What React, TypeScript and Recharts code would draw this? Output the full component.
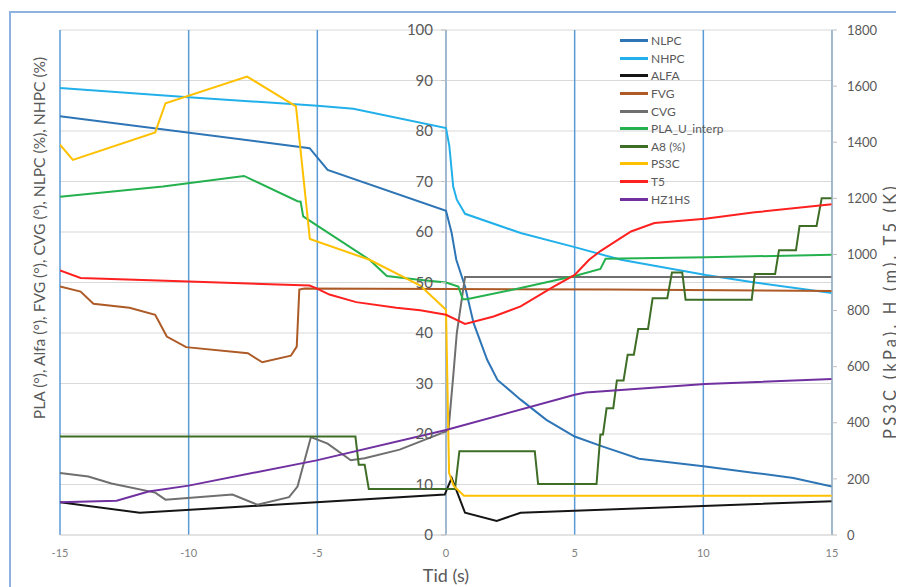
import { LineChart, Line, XAxis, YAxis, CartesianGrid, ReferenceLine, Legend } from "recharts";

// time (s) / value pairs
// left axis: PLA, Alfa, FVG, CVG, NLPC, NHPC, A8 (all % or °)
const NLPC: [number, number][] = [
  [-15, 82.9], [-5.3, 76.6], [-4.6, 72.3], [0, 64.2], [0.22, 59.8], [0.4, 54.5], [0.74, 49.2],
  [1.07, 42.0], [1.6, 34.7], [2.0, 30.7], [2.9, 26.8], [3.9, 22.8], [5.0, 19.5], [6.1, 17.5],
  [7.5, 15.1], [10, 13.6], [12, 12.3], [13.5, 11.3], [15, 9.6],
];
const NHPC: [number, number][] = [
  [-15, 88.5], [-10, 86.7], [-5, 85.0], [-3.6, 84.4], [0, 80.6], [0.13, 77.0], [0.28, 69.0],
  [0.42, 66.4], [0.74, 63.6], [2.9, 59.8], [5.0, 57.0], [6.8, 54.5], [10.1, 51.5], [12, 50.0], [15, 47.9],
];
const ALFA: [number, number][] = [
  [-15, 6.5], [-11.9, 4.4], [-0.05, 8.0], [0.22, 11.3], [0.74, 4.4], [1.97, 2.8], [2.9, 4.4], [15, 6.7],
];
const FVG: [number, number][] = [
  [-15, 49.2], [-14.2, 48.2], [-13.7, 45.8], [-12.3, 45.0], [-11.3, 43.6], [-10.85, 39.3],
  [-10.1, 37.2], [-7.7, 36.0], [-7.14, 34.2], [-6.03, 35.5], [-5.8, 37.3], [-5.7, 48.6],
  [-5.5, 48.8], [0, 48.7], [6.3, 48.6], [15, 48.3],
];
const CVG: [number, number][] = [
  [-15, 12.3], [-13.9, 11.6], [-13.0, 10.2], [-11.3, 8.4], [-10.9, 7.0], [-8.3, 8.0], [-7.33, 6.0],
  [-6.1, 7.5], [-5.77, 9.6], [-5.25, 19.4], [-4.6, 18.1], [-3.7, 14.8], [-3.16, 15.2], [-1.8, 16.9],
  [0, 20.5], [0.1, 21.0], [0.29, 32.0], [0.42, 40.0], [0.61, 46.6], [0.74, 51.1], [15, 51.1],
];
const PLA: [number, number][] = [
  [-15, 67.0], [-11.0, 69.0], [-7.85, 71.1], [-5.77, 66.1], [-5.65, 66.0], [-5.55, 63.1],
  [-5.05, 61.4], [-2.97, 54.5], [-2.3, 51.3], [-1.14, 50.6], [0, 50.0], [0.48, 49.2], [0.65, 46.7],
  [0.8, 46.7], [2.9, 48.9], [5.0, 51.3], [6.0, 52.7], [6.2, 54.7], [10.1, 55.0], [15, 55.5],
];
const A8: [number, number][] = [
  [-15, 19.5], [-3.52, 19.5], [-3.39, 13.9], [-3.16, 13.9], [-3.0, 9.1], [0.35, 9.1], [0.52, 16.6],
  [3.45, 16.6], [3.58, 10.1], [5.85, 10.1], [6.0, 19.9], [6.1, 19.9], [6.24, 25.1], [6.5, 25.1],
  [6.64, 30.6], [6.9, 30.6], [7.06, 35.7], [7.3, 35.7], [7.47, 40.8], [7.85, 40.8], [8.03, 46.9],
  [8.6, 46.9], [8.78, 52.0], [9.18, 52.0], [9.31, 46.6], [11.88, 46.6], [12.0, 51.7], [12.79, 51.7],
  [12.94, 56.4], [13.6, 56.4], [13.74, 61.2], [14.4, 61.2], [14.6, 66.7], [15, 66.7],
];
// right axis: PS3C (kPa), H (m), T5 (K)
const PS3C: [number, number][] = [
  [-15, 1391], [-14.5, 1337], [-11.3, 1435], [-10.9, 1539], [-7.73, 1634], [-5.83, 1528],
  [-5.29, 1055], [-2.97, 981], [-1.0, 889], [0.0, 803], [0.12, 221], [0.3, 175], [0.7, 140], [15, 140],
];
const T5: [number, number][] = [
  [-15, 943], [-14.2, 916], [-10, 904], [-5.3, 889], [-5.05, 880], [-4.53, 857], [-3.49, 830],
  [-1.93, 810], [-1.0, 801], [0, 785], [0.74, 752], [1.85, 779], [2.9, 815], [4.2, 886], [5.0, 927],
  [5.56, 981], [6.0, 1012], [7.19, 1082], [8.1, 1112], [10.07, 1127], [12.0, 1150], [15, 1179],
];
const HZ1HS: [number, number][] = [
  [-15, 117], [-12.8, 122], [-11.56, 155], [-10, 176], [-5.03, 266], [0, 374], [5.0, 500],
  [5.43, 508], [10.07, 538], [15, 556],
];

const xTicks = [-15, -10, -5, 0, 5, 10, 15];
const leftTicks = [0, 10, 20, 30, 40, 50, 60, 70, 80, 90, 100];
const rightTicks = [0, 200, 400, 600, 800, 1000, 1200, 1400, 1600, 1800];

const series = [
  { name: "NLPC", data: NLPC, color: "#2e75b6", axis: "left" },
  { name: "NHPC", data: NHPC, color: "#22b0ea", axis: "left" },
  { name: "ALFA", data: ALFA, color: "#151515", axis: "left" },
  { name: "FVG", data: FVG, color: "#ad5a26", axis: "left" },
  { name: "CVG", data: CVG, color: "#6f6f6f", axis: "left" },
  { name: "PLA_U_interp", data: PLA, color: "#24b14e", axis: "left" },
  { name: "A8 (%)", data: A8, color: "#3e6e26", axis: "left" },
  { name: "PS3C", data: PS3C, color: "#ffc000", axis: "right" },
  { name: "T5", data: T5, color: "#ff2020", axis: "right" },
  { name: "HZ1HS", data: HZ1HS, color: "#7030a0", axis: "right" },
];

const FONT = "Lato, 'Open Sans', sans-serif";
const W = 896;
const H = 579;
const MARGIN = { top: 22, right: 16, bottom: 22, left: 8 };
const LEFT_W = 44;
const RIGHT_W = 56;
const PLOT_L = MARGIN.left + LEFT_W;
const PLOT_R = W - MARGIN.right - RIGHT_W;
const ZERO_X = PLOT_L + (PLOT_R - PLOT_L) / 2; // left value axis sits at t = 0

// left axis labels drawn next to the t=0 axis line
function LeftTick({ y, payload }: any) {
  return (
    <g>
      <line x1={ZERO_X - 5} x2={ZERO_X} y1={y} y2={y} stroke="#bfbfbf" />
      <text x={ZERO_X - 13} y={y} dy={5} textAnchor="end" fontSize={15} fill="#595959" fontFamily={FONT}>
        {payload.value}
      </text>
    </g>
  );
}

const leftTitle = () => (
  <text x={31} y={230} transform="rotate(-90 31 230)" textAnchor="middle" dominantBaseline="central"
    fontSize={15.6} fill="#595959" fontFamily={FONT}>
    PLA (°), Alfa (°), FVG (°), CVG (°), NLPC (%), NHPC (%)
  </text>
);
const rightTitle = () => (
  <text x={882} y={303} transform="rotate(-90 882 303)" textAnchor="middle" dominantBaseline="central"
    fontSize={16.5} letterSpacing={3.2} fill="#595959" fontFamily={FONT}>
    PS3C (kPa), H (m), T5 (K)
  </text>
);
const xTitle = () => (
  <text x={ZERO_X} y={574} textAnchor="middle" fontSize={18} fill="#595959" fontFamily={FONT}>
    Tid (s)
  </text>
);

function renderLegend() {
  return (
    <div style={{ fontFamily: FONT, fontSize: 12, color: "#595959" }}>
      {series.map((s) => (
        <div key={s.name} style={{ display: "flex", alignItems: "center", height: 17.6 }}>
          <span style={{ display: "inline-block", width: 28, height: 3, background: s.color, marginRight: 3 }} />
          <span>{s.name}</span>
        </div>
      ))}
    </div>
  );
}

export default function App() {
  return (
    <div style={{ position: "relative", width: W, height: H }}>
      <div style={{ position: "absolute", left: 1, top: 3, width: 900, height: 600, borderLeft: "2px solid #8fb3e0", borderTop: "2px solid #8fb3e0" }} />
      <LineChart width={W} height={H} margin={MARGIN}>
        <CartesianGrid yAxisId="left" horizontal vertical={false} stroke="#d9d9d9" />
        <CartesianGrid yAxisId="left" horizontal={false} vertical stroke="#5b9bd5" strokeWidth={1.5} />
        <XAxis type="number" dataKey="t" domain={[-15, 15]} ticks={xTicks} allowDataOverflow
          axisLine={{ stroke: "#d9d9d9" }} tickLine={false} tickMargin={8} height={30}
          tick={{ fontSize: 11, fill: "#7f7f7f", fontFamily: FONT }} label={xTitle} />
        <YAxis yAxisId="left" domain={[0, 100]} ticks={leftTicks} width={LEFT_W} axisLine={false}
          tickLine={false} tick={<LeftTick />} label={leftTitle} />
        <YAxis yAxisId="right" orientation="right" domain={[0, 1800]} ticks={rightTicks} width={RIGHT_W}
          axisLine={{ stroke: "#bfbfbf" }} tickLine={{ stroke: "#bfbfbf" }} tickSize={5} tickMargin={10}
          tick={{ fontSize: 13, fill: "#595959", fontFamily: FONT }} label={rightTitle} />
        <ReferenceLine yAxisId="left" x={0} stroke="#bfbfbf" />
        {series.map((s) => (
          <Line key={s.name} name={s.name} yAxisId={s.axis} data={s.data.map(([t, v]) => ({ t, v }))}
            dataKey="v" type="linear" stroke={s.color} strokeWidth={2} dot={false} activeDot={false}
            isAnimationActive={false} />
        ))}
        <Legend layout="vertical" align="center" verticalAlign="middle" content={renderLegend}
          wrapperStyle={{ left: 612, top: 24, width: 140 }} />
      </LineChart>
    </div>
  );
}
